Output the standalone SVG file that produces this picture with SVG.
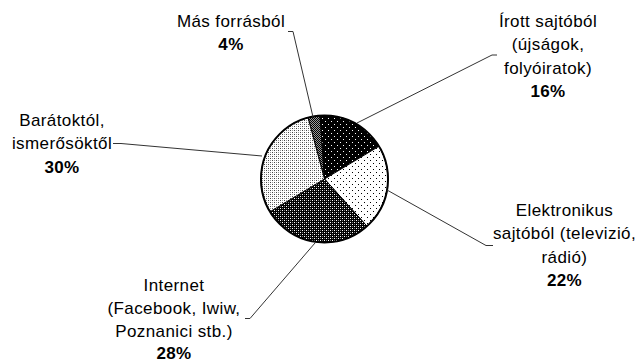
<svg xmlns="http://www.w3.org/2000/svg" width="636" height="361" viewBox="0 0 636 361">
  <defs>
    <pattern id="pIrott" patternUnits="userSpaceOnUse" width="6" height="6">
      <rect width="6" height="6" fill="#000"/>
      <rect x="1" y="1" width="1" height="1" fill="#fff"/>
      <rect x="4" y="4" width="1" height="1" fill="#fff"/>
    </pattern>
    <pattern id="pElektr" patternUnits="userSpaceOnUse" width="6" height="6">
      <rect width="6" height="6" fill="#fff"/>
      <rect x="1" y="1" width="1" height="1" fill="#000"/>
      <rect x="4" y="4" width="1" height="1" fill="#000"/>
    </pattern>
    <pattern id="pInternet" patternUnits="userSpaceOnUse" width="4" height="4">
      <rect width="4" height="4" fill="#000"/>
      <rect x="0" y="0" width="1" height="1" fill="#fff"/>
      <rect x="2" y="2" width="1" height="1" fill="#fff"/>
      <rect x="2" y="0" width="1" height="1" fill="#777"/>
      <rect x="0" y="2" width="1" height="1" fill="#777"/>
    </pattern>
    <pattern id="pBarat" patternUnits="userSpaceOnUse" width="4" height="4">
      <rect width="4" height="4" fill="#fff"/>
      <rect x="0" y="0" width="1" height="1" fill="#444"/>
      <rect x="2" y="2" width="1" height="1" fill="#444"/>
      <rect x="2" y="0" width="1" height="1" fill="#999"/>
      <rect x="0" y="2" width="1" height="1" fill="#999"/>
    </pattern>
    <pattern id="pMas" patternUnits="userSpaceOnUse" width="2" height="2">
      <rect width="2" height="2" fill="#999"/>
      <rect x="0" y="0" width="1" height="1" fill="#000"/>
      <rect x="1" y="1" width="1" height="1" fill="#000"/>
    </pattern>
  </defs>
  <style>
    text { font-family: "Liberation Sans", Arial, sans-serif; font-size: 17px; fill: #000; text-anchor: middle; letter-spacing: 0.4px; }
    .pct { font-weight: bold; }
    .slice { stroke: #000; stroke-width: 1; }
    .leader { fill: none; stroke: #333; stroke-width: 1; }
  </style>
  <rect width="636" height="361" fill="#fff"/>

  <g id="pie">
    <g id="slice-mas"><path class="slice" fill="url(#pMas)" d="M324.5,179 L308.07,117.66 A63.5,63.5 0 0 1 320.07,115.65 Z"/></g>
    <g id="slice-irott"><path class="slice" fill="url(#pIrott)" d="M324.5,179 L320.07,115.65 A63.5,63.5 0 0 1 378.93,146.3 Z"/></g>
    <g id="slice-elektronikus"><path class="slice" fill="url(#pElektr)" d="M324.5,179 L378.93,146.3 A63.5,63.5 0 0 1 366.99,226.19 Z"/></g>
    <g id="slice-internet"><path class="slice" fill="url(#pInternet)" d="M324.5,179 L366.99,226.19 A63.5,63.5 0 0 1 270.07,211.7 Z"/></g>
    <g id="slice-barat"><path class="slice" fill="url(#pBarat)" d="M324.5,179 L270.07,211.7 A63.5,63.5 0 0 1 308.07,117.66 Z"/></g>
    <circle cx="324.5" cy="179" r="63.5" fill="none" stroke="#000" stroke-width="2"/>
  </g>

  <g id="connectors">
    <polyline class="leader" points="288,31.5 293,31.5 313,117"/>
    <polyline class="leader" points="497,55 492,55 357,123"/>
    <polyline class="leader" points="387,190 486,245.5 493,245.5"/>
    <polyline class="leader" points="315,243 250,318.5 245,318.5"/>
    <polyline class="leader" points="113,143.5 121,143.5 262,156"/>
  </g>

  <g id="label-mas">
    <text x="231" y="26.5">Más forrásból</text>
    <text class="pct" x="231" y="50">4%</text>
  </g>
  <g id="label-irott">
    <text x="548" y="27">Írott sajtóból</text>
    <text x="548" y="50.3">(újságok,</text>
    <text x="548" y="73.6">folyóiratok)</text>
    <text class="pct" x="548" y="97">16%</text>
  </g>
  <g id="label-elektronikus">
    <text x="564.5" y="216">Elektronikus</text>
    <text x="564.5" y="239.3">sajtóból (televizió,</text>
    <text x="564.5" y="262.6">rádió)</text>
    <text class="pct" x="564.5" y="285.9">22%</text>
  </g>
  <g id="label-internet">
    <text x="174" y="291">Internet</text>
    <text x="174" y="314">(Facebook, Iwiw,</text>
    <text x="174" y="337">Poznanici stb.)</text>
    <text class="pct" x="174" y="358.5">28%</text>
  </g>
  <g id="label-barat">
    <text x="62" y="126">Barátoktól,</text>
    <text x="62" y="149.3">ismerősöktől</text>
    <text class="pct" x="62" y="172.6">30%</text>
  </g>
</svg>
